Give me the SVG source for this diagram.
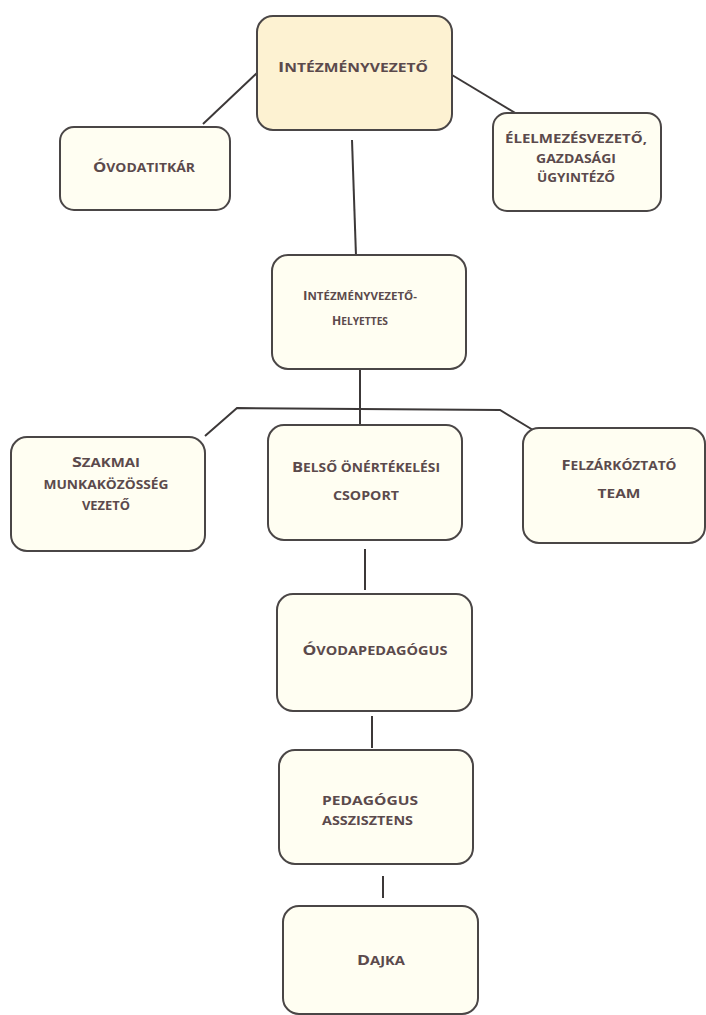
<svg xmlns="http://www.w3.org/2000/svg" width="706" height="1015" viewBox="0 0 706 1015">
<style>
.box{fill:#fffef2;stroke:#4a4646;stroke-width:2}
.top{fill:#fdf2d2}
.t{font-family:"Open Sans","Liberation Sans",sans-serif;font-weight:bold;font-size:12.5px;fill:#5b4a4c;text-anchor:middle}
.s{font-size:11px}
.i{font-size:15px}
.c{stroke:#3c3838;stroke-width:2;fill:none}
</style>
<rect width="706" height="1015" fill="#ffffff"/>
<g id="connectors">
<line class="c" x1="258" y1="72" x2="203" y2="124"/>
<line class="c" x1="452" y1="75" x2="517" y2="114"/>
<line class="c" x1="352" y1="140" x2="356" y2="256"/>
<line class="c" x1="360" y1="369" x2="360" y2="426"/>
<polyline class="c" points="205,436 237,408 500,410 533,430"/>
<line class="c" x1="365" y1="549" x2="365" y2="590"/>
<line class="c" x1="372" y1="716" x2="372" y2="748"/>
<line class="c" x1="383" y1="876" x2="383" y2="898"/>
</g>
<g id="n1"><rect class="box top" x="257" y="16" width="195" height="114" rx="16"/><text class="t" x="353" y="72" textLength="150" lengthAdjust="spacingAndGlyphs"><tspan class="i">I</tspan>NTÉZMÉNYVEZETŐ</text></g>
<g id="n2"><rect class="box" x="60" y="127" width="170" height="83" rx="14"/><text class="t" x="144" y="172" textLength="102" lengthAdjust="spacingAndGlyphs"><tspan class="i">Ó</tspan>VODATITKÁR</text></g>
<g id="n3"><rect class="box" x="493" y="113" width="168" height="98" rx="14"/><text class="t" x="576" y="143" textLength="142" lengthAdjust="spacingAndGlyphs">ÉLELMEZÉSVEZETŐ,</text><text class="t" x="576" y="163" textLength="80" lengthAdjust="spacingAndGlyphs">GAZDASÁGI</text><text class="t" x="576" y="182" textLength="78" lengthAdjust="spacingAndGlyphs">ÜGYINTÉZŐ</text></g>
<g id="n4"><rect class="box" x="272" y="255" width="194" height="114" rx="16"/><text class="t s" x="360" y="300" textLength="114" lengthAdjust="spacingAndGlyphs"><tspan style="font-size:13px">I</tspan>NTÉZMÉNYVEZETŐ-</text><text class="t s" x="360" y="325" textLength="56" lengthAdjust="spacingAndGlyphs"><tspan style="font-size:13px">H</tspan>ELYETTES</text></g>
<g id="n5"><rect class="box" x="11" y="437" width="194" height="114" rx="16"/><text class="t" x="106" y="467" textLength="68" lengthAdjust="spacingAndGlyphs"><tspan class="i">S</tspan>ZAKMAI</text><text class="t" x="106" y="489" textLength="125" lengthAdjust="spacingAndGlyphs">MUNKAKÖZÖSSÉG</text><text class="t" x="106" y="510" textLength="48" lengthAdjust="spacingAndGlyphs">VEZETŐ</text></g>
<g id="n6"><rect class="box" x="268" y="425" width="194" height="115" rx="16"/><text class="t" x="366" y="472" textLength="148" lengthAdjust="spacingAndGlyphs"><tspan class="i">B</tspan>ELSŐ ÖNÉRTÉKELÉSI</text><text class="t" x="366" y="500" textLength="66" lengthAdjust="spacingAndGlyphs">CSOPORT</text></g>
<g id="n7"><rect class="box" x="523" y="428" width="182" height="115" rx="16"/><text class="t" x="619" y="470" textLength="115" lengthAdjust="spacingAndGlyphs"><tspan class="i">F</tspan>ELZÁRKÓZTATÓ</text><text class="t" x="619" y="498" textLength="43" lengthAdjust="spacingAndGlyphs">TEAM</text></g>
<g id="n8"><rect class="box" x="277" y="594" width="195" height="117" rx="16"/><text class="t" x="375" y="655" textLength="145" lengthAdjust="spacingAndGlyphs"><tspan class="i">Ó</tspan>VODAPEDAGÓGUS</text></g>
<g id="n9"><rect class="box" x="279" y="750" width="194" height="114" rx="16"/><text class="t" x="322" y="805" style="text-anchor:start;font-size:13px" textLength="96" lengthAdjust="spacingAndGlyphs">PEDAGÓGUS</text><text class="t" x="322" y="825" style="text-anchor:start;font-size:13px" textLength="91" lengthAdjust="spacingAndGlyphs">ASSZISZTENS</text></g>
<g id="n10"><rect class="box" x="283" y="906" width="195" height="108" rx="16"/><text class="t" x="381" y="965" textLength="48" lengthAdjust="spacingAndGlyphs"><tspan class="i">D</tspan>AJKA</text></g>
</svg>
